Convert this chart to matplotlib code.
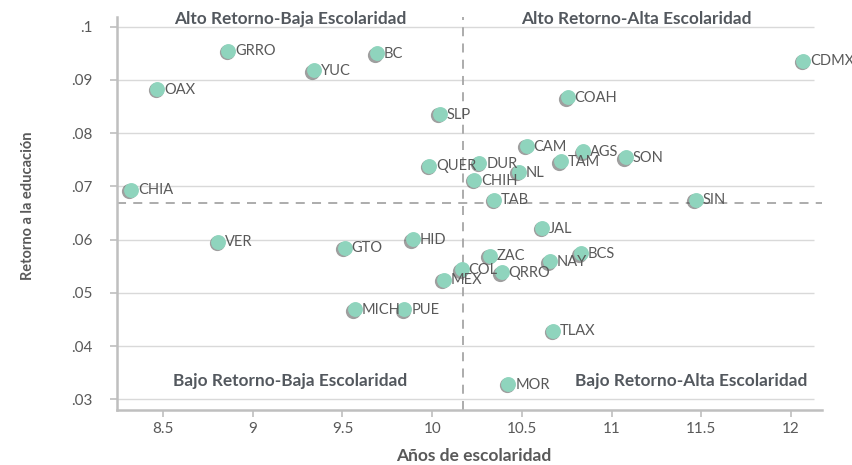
import matplotlib.pyplot as plt
from matplotlib.transforms import offset_copy

# states: years of schooling vs. returns to education
estados = ["GRRO", "BC", "YUC", "OAX", "CHIA", "CDMX", "COAH", "SLP", "CAM", "AGS",
           "SON", "TAM", "QUER", "DUR", "NL", "CHIH", "TAB", "SIN", "JAL", "VER",
           "GTO", "HID", "MICH", "PUE", "ZAC", "BCS", "NAY", "COL", "QRRO", "MEX",
           "TLAX", "MOR"]
escolaridad = [8.863, 9.690, 9.341, 8.467, 8.321, 12.068, 10.755, 10.043, 10.526, 10.842,
               11.078, 10.717, 9.983, 10.262, 10.483, 10.234, 10.346, 11.470, 10.613, 8.807,
               9.513, 9.891, 9.569, 9.844, 10.322, 10.829, 10.656, 10.164, 10.387, 10.065,
               10.674, 10.424]
retorno = [0.0955, 0.0950, 0.0918, 0.0883, 0.0694, 0.0936, 0.0867, 0.0836, 0.0776, 0.0766,
           0.0755, 0.0747, 0.0739, 0.0744, 0.0727, 0.0712, 0.0675, 0.0675, 0.0622, 0.0596,
           0.0585, 0.0601, 0.0469, 0.0469, 0.0570, 0.0574, 0.0559, 0.0544, 0.0539, 0.0525,
           0.0429, 0.0329]

media_x = 10.173
media_y = 0.0669

xticks = [8.5, 9, 9.5, 10, 10.5, 11, 11.5, 12]
xtick_labels = ["8.5", "9", "9.5", "10", "10.5", "11", "11.5", "12"]
yticks = [0.03, 0.04, 0.05, 0.06, 0.07, 0.08, 0.09, 0.1]
ytick_labels = [".03", ".04", ".05", ".06", ".07", ".08", ".09", ".1"]

plt.rcParams["font.family"] = ["Lato", "DejaVu Sans"]
gris = "#595959"
verde = "#8fd4bd"

fig = plt.figure(figsize=(8.53, 4.65), dpi=100)
ax = fig.add_axes([0.1375, 0.1183, 0.8261, 0.845])
ax.set_xlim(8.245, 12.172)
ax.set_ylim(0.028, 0.1018)

# gridlines (stop a bit short of the axis end)
ax.hlines(yticks, 8.245, 12.128, color="#d9d9d9", lw=1, zorder=0)

# mean lines
ax.axvline(media_x, color="#a6a6a6", lw=1.3, ls=(0, (5, 4)), zorder=1)
ax.axhline(media_y, color="#a6a6a6", lw=1.3, ls=(0, (5, 4)), zorder=1)

# points with a soft shadow
sombra = offset_copy(ax.transData, fig=fig, x=-1.5, y=-1.5, units="dots")
ax.scatter(escolaridad, retorno, s=120, color="#404040", alpha=0.5,
           transform=sombra, lw=0, zorder=2)
ax.scatter(escolaridad, retorno, s=115, color=verde, lw=0, zorder=3)
for nombre, xv, yv in zip(estados, escolaridad, retorno):
    ax.annotate(nombre, (xv, yv), xytext=(5, -0.5), textcoords="offset points",
                va="center", ha="left", fontsize=10.5, color=gris, zorder=4)

# quadrant titles
titulo = dict(fontsize=12.4, fontweight="bold", color="#53585e", ha="center", va="center")
ax.text(9.207, 0.10144, "Alto Retorno-Baja Escolaridad", **titulo)
ax.text(11.135, 0.10144, "Alto Retorno-Alta Escolaridad", **titulo)
ax.text(9.207, 0.0334, "Bajo Retorno-Baja Escolaridad", **titulo)
ax.text(11.442, 0.0334, "Bajo Retorno-Alta Escolaridad", **titulo)

ax.set_xticks(xticks, xtick_labels)
ax.set_yticks(yticks, ytick_labels)
ax.tick_params(colors="#bfbfbf", labelcolor=gris, labelsize=11, length=5, width=1.2)
ax.tick_params(axis="y", pad=13)
for lado in ["top", "right"]:
    ax.spines[lado].set_visible(False)
for lado in ["left", "bottom"]:
    ax.spines[lado].set_color("#bfbfbf")
    ax.spines[lado].set_linewidth(1.8)

ax.set_xlabel("Años de escolaridad", fontsize=12.5, fontweight="bold", color=gris)
ax.set_ylabel("Retorno a la educación", fontsize=10.5, fontweight="bold", color=gris)
ax.xaxis.set_label_coords(0.506, -0.117)
ax.yaxis.set_label_coords(-0.126, 0.52)
ax.xaxis.label.set_va("center")
ax.yaxis.label.set_va("center")

fig.savefig("out.png", dpi=100)
